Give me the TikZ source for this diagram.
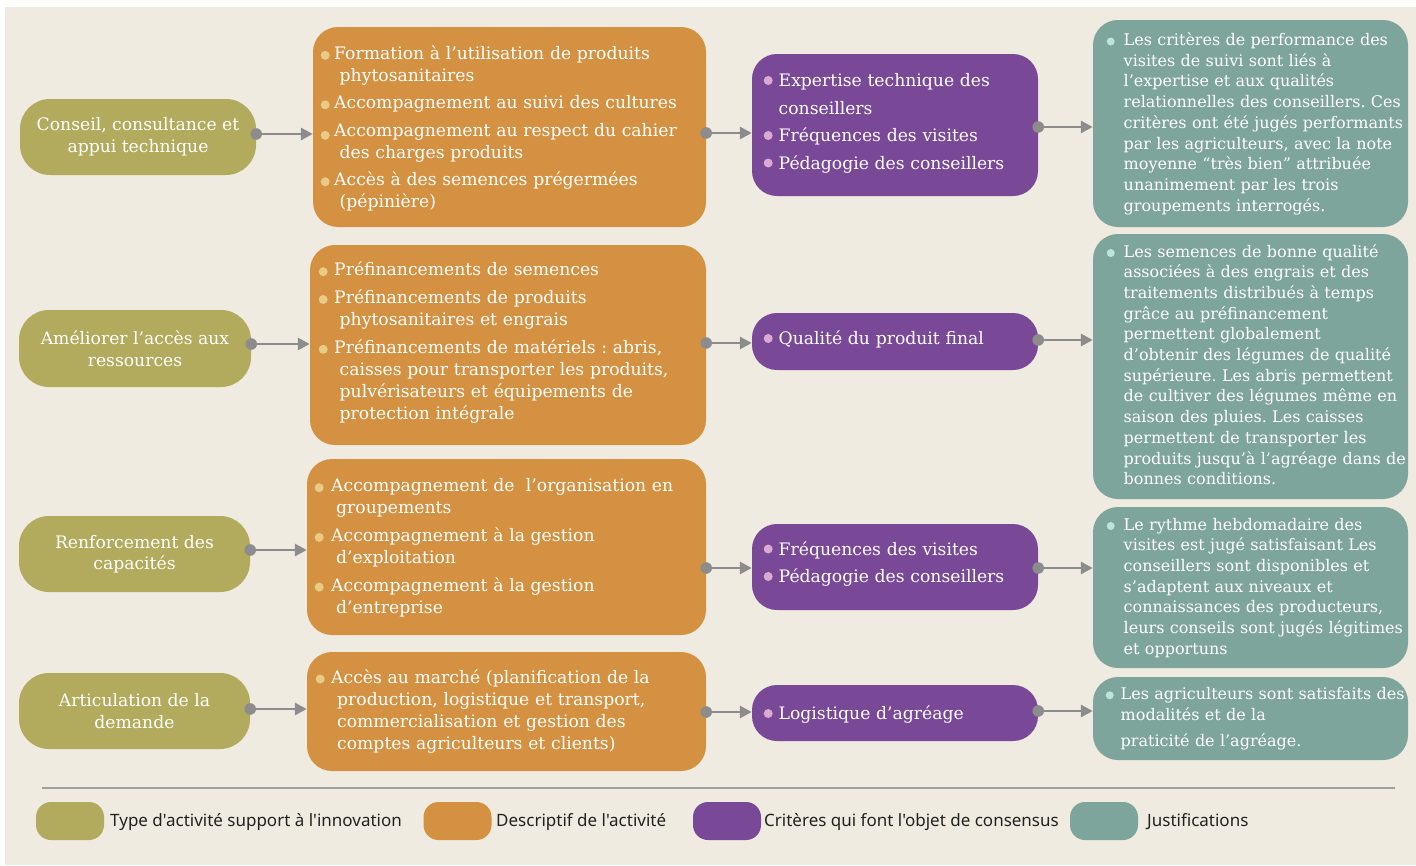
\documentclass[tikz,border=0pt]{standalone}
\usepackage{fontspec}
\setmainfont{DejaVu Serif}
\newfontfamily\legendfont{Noto Sans}
\usetikzlibrary{arrows.meta}
\frenchspacing
\definecolor{bg}{HTML}{EFEBE1}
\definecolor{olivec}{HTML}{B2AA5C}
\definecolor{orngc}{HTML}{D49142}
\definecolor{purpc}{HTML}{794897}
\definecolor{tealc}{HTML}{7EA59B}
\definecolor{bulO}{HTML}{E8CB84}
\definecolor{bulP}{HTML}{DCA9D3}
\definecolor{bulT}{HTML}{BDE3DA}
\definecolor{conncol}{HTML}{8C8C8C}
\definecolor{sepcol}{HTML}{A0A0A0}
\definecolor{legtext}{HTML}{222222}
% bullet: color, raise, radius
\newcommand\bl[3]{\makebox[\bw][l]{\tikz[baseline={(0pt,-#2)}]\fill[#1] (#3,0pt) circle[radius=#3];}}
\newcommand\bio{\bl{bulO}{4pt}{4.5pt}}
\newcommand\bip{\bl{bulP}{6pt}{4.5pt}}
\newcommand\bit{\bl{bulT}{4pt}{4pt}}
\newcommand\cl{\newline\hspace*{\ci}}
\newcommand\link[4]{%
  \coordinate (#4) at ([yshift=#3]#1.east);
  \draw[conn] (#4) -- (#4 -| #2.west);
  \fill[conncol] (#4) circle[radius=5.8pt];}
\tikzset{
  box/.style={rectangle, rounded corners=25pt, inner sep=0pt, draw=none},
  olbox/.style={box, fill=olivec, rounded corners=30pt, text=white, align=center,
    font=\fontsize{17.2}{21.5}\selectfont},
  orbox/.style={box, fill=orngc},
  pubox/.style={box, fill=purpc},
  tebox/.style={box, fill=tealc},
  ortxt/.style={anchor=base west, inner sep=0pt, text=white, text width=385pt,
    font=\fontsize{17.2}{22}\selectfont},
  putxt/.style={anchor=base west, inner sep=0pt, text=white, text width=270pt,
    font=\fontsize{17.2}{27.5}\selectfont},
  tetxt/.style={anchor=base west, inner sep=0pt, text=white, text width=300pt,
    font=\fontsize{16}{20.7}\selectfont},
  conn/.style={draw=conncol, line width=2.8pt, -{Triangle[length=12pt,width=12pt]}},
  swatch/.style={box, rounded corners=15pt, minimum width=68pt, minimum height=38pt},
  legtxt/.style={anchor=base west, inner sep=0pt, text=legtext,
    font=\legendfont\fontsize{17}{20}\selectfont},
  sepline/.style={draw=sepcol, line width=1.5pt}
}
\begin{document}
\begin{tikzpicture}[x=1pt,y=-1pt]
\useasboundingbox (0,0) rectangle (1416,865);
\fill[white] (0,0) rectangle (1416,865);
\fill[bg] (5,7) rectangle (1416,865);

% column 1
\node[olbox, minimum width=236pt, minimum height=76pt] (c1) at (138,137) {Conseil, consultance et\\appui technique};
\node[olbox, minimum width=232pt, minimum height=77pt] (c2) at (135,348.5) {Améliorer l’accès aux\\ressources};
\node[olbox, minimum width=231pt, minimum height=76pt] (c3) at (134.5,554) {Renforcement des\\capacités};
\node[olbox, minimum width=231pt, minimum height=76pt] (c4) at (134.5,711) {Articulation de la\\demande};

% column 2
\node[orbox, minimum width=393pt, minimum height=200pt] (o1) at (509.5,127) {};
\node[orbox, minimum width=396pt, minimum height=200pt] (o2) at (508,345) {};
\node[orbox, minimum width=399pt, minimum height=176pt] (o3) at (506.5,547) {};
\node[orbox, minimum width=399pt, minimum height=119pt] (o4) at (506.5,711.5) {};

% column 3
\node[pubox, minimum width=286pt, minimum height=142pt] (p1) at (895,125) {};
\node[pubox, minimum width=286pt, minimum height=57pt] (p2) at (895,341.5) {};
\node[pubox, minimum width=286pt, minimum height=86pt] (p3) at (895,567) {};
\node[pubox, minimum width=286pt, minimum height=56pt] (p4) at (895,713) {};

% column 4
\node[tebox, minimum width=315pt, minimum height=207pt] (t1) at (1250.5,123.5) {};
\node[tebox, minimum width=315pt, minimum height=265pt] (t2) at (1250.5,366.5) {};
\node[tebox, minimum width=315pt, minimum height=161pt] (t3) at (1250.5,587.5) {};
\node[tebox, minimum width=315pt, minimum height=83pt] (t4) at (1250.5,718.5) {};

% texts column 2
\node[ortxt] (o1t) at (320.5,59.3) {\def\bw{13.5pt}\def\ci{19pt}\setlength\parskip{5.5pt}%
\bio Formation à l’utilisation de produits\cl phytosanitaires\par
\bio Accompagnement au suivi des cultures\par
\bl{bulO}{1pt}{4.5pt}Accompagnement au respect du cahier\cl des charges produits\par
\bio Accès à des semences prégermées\cl (pépinière)};
\node[ortxt] (o2t) at (318.5,275.7) {\def\bw{15.5pt}\def\ci{21pt}\setlength\parskip{5.8pt}%
\bio Préfinancements de semences\par
\bio Préfinancements de produits\cl phytosanitaires et engrais\par
\bio Préfinancements de matériels : abris,\cl caisses pour transporter les produits,\cl pulvérisateurs et équipements de\cl protection intégrale};
\node[ortxt] (o3t) at (314.5,491.7) {\def\bw{16.5pt}\def\ci{21.5pt}\setlength\parskip{5.7pt}%
\bio Accompagnement de \ l’organisation en\cl groupements\par
\bio Accompagnement à la gestion\cl d’exploitation\par
\bio Accompagnement à la gestion\cl d’entreprise};
\node[ortxt] (o4t) at (315.5,683) {\def\bw{15.5pt}\def\ci{21.5pt}%
\bio Accès au marché (planification de la\cl production, logistique et transport,\cl commercialisation et gestion des\cl comptes agriculteurs et clients)};

% texts column 3
\node[putxt] (p1t) at (763.5,86.5) {\def\bw{15pt}\def\ci{15pt}%
\bip Expertise technique des\cl conseillers\par
\bip Fréquences des visites\par
\bip Pédagogie des conseillers};
\node[putxt] (p2t) at (763.5,344.5) {\def\bw{15pt}\def\ci{15pt}\bip Qualité du produit final};
\node[putxt] (p3t) at (763.5,555) {\def\bw{15pt}\def\ci{15pt}%
\bip Fréquences des visites\par
\bip Pédagogie des conseillers};
\node[putxt] (p4t) at (763.5,719.5) {\def\bw{15pt}\def\ci{15pt}\bip Logistique d’agréage};

% texts column 4
\node[tetxt] (t1t) at (1106.5,45.5) {\def\bw{17pt}\def\ci{17pt}%
\bit Les critères de performance des\cl visites de suivi sont liés à\cl l’expertise et aux qualités\cl relationnelles des conseillers. Ces\cl critères ont été jugés performants\cl par les agriculteurs, avec la note\cl moyenne “très bien” attribuée\cl unanimement par les trois\cl groupements interrogés.};
\node[tetxt] (t2t) at (1106.5,257) {\def\bw{17pt}\def\ci{17pt}%
\bit Les semences de bonne qualité\cl associées à des engrais et des\cl traitements distribués à temps\cl grâce au préfinancement\cl permettent globalement\cl d’obtenir des légumes de qualité\cl supérieure. Les abris permettent\cl de cultiver des légumes même en\cl saison des pluies. Les caisses\cl permettent de transporter les\cl produits jusqu’à l’agréage dans de\cl bonnes conditions.};
\node[tetxt] (t3t) at (1106.5,530) {\def\bw{17pt}\def\ci{17pt}%
\bit Le rythme hebdomadaire des\cl visites est jugé satisfaisant Les\cl conseillers sont disponibles et\cl s’adaptent aux niveaux et\cl connaissances des producteurs,\cl leurs conseils sont jugés légitimes\cl et opportuns};
\node[tetxt] (t4t) at (1105.5,699.3) {\def\bw{15pt}\def\ci{15pt}%
\bit Les agriculteurs sont satisfaits des\cl modalités et de la\par\vspace{5.3pt}\noindent\hspace*{\ci}praticité de l’agréage.};

% connectors
\link{c1}{o1}{3pt}{a1}
\link{o1}{p1}{-6pt}{b1}
\link{p1}{t1}{-2pt}{d1}
\link{c2}{o2}{4.5pt}{a2}
\link{o2}{p2}{2pt}{b2}
\link{p2}{t2}{1.5pt}{d2}
\link{c3}{o3}{4pt}{a3}
\link{o3}{p3}{-21pt}{b3}
\link{p3}{t3}{-1pt}{d3}
\link{c4}{o4}{2pt}{a4}
\link{o4}{p4}{-0.5pt}{b4}
\link{p4}{t4}{2pt}{d4}

% legend
\coordinate (sepL) at (42,788);
\coordinate (sepR) at (1395,788);
\draw[sepline] (sepL) -- (sepR);
\node[swatch, fill=olivec] (s1) at (70,821) {};
\node[swatch, fill=orngc] (s2) at (457.5,821) {};
\node[swatch, fill=purpc] (s3) at (727,821) {};
\node[swatch, fill=tealc] (s4) at (1104,821) {};
\node[legtxt] (l1) at (110,826.5) {Type d'activité support à l'innovation};
\node[legtxt] (l2) at (496,826.5) {Descriptif de l'activité};
\node[legtxt] (l3) at (764,826.5) {Critères qui font l'objet de consensus};
\node[legtxt] (l4) at (1147,826.5) {Justifications};
\end{tikzpicture}
\end{document}
